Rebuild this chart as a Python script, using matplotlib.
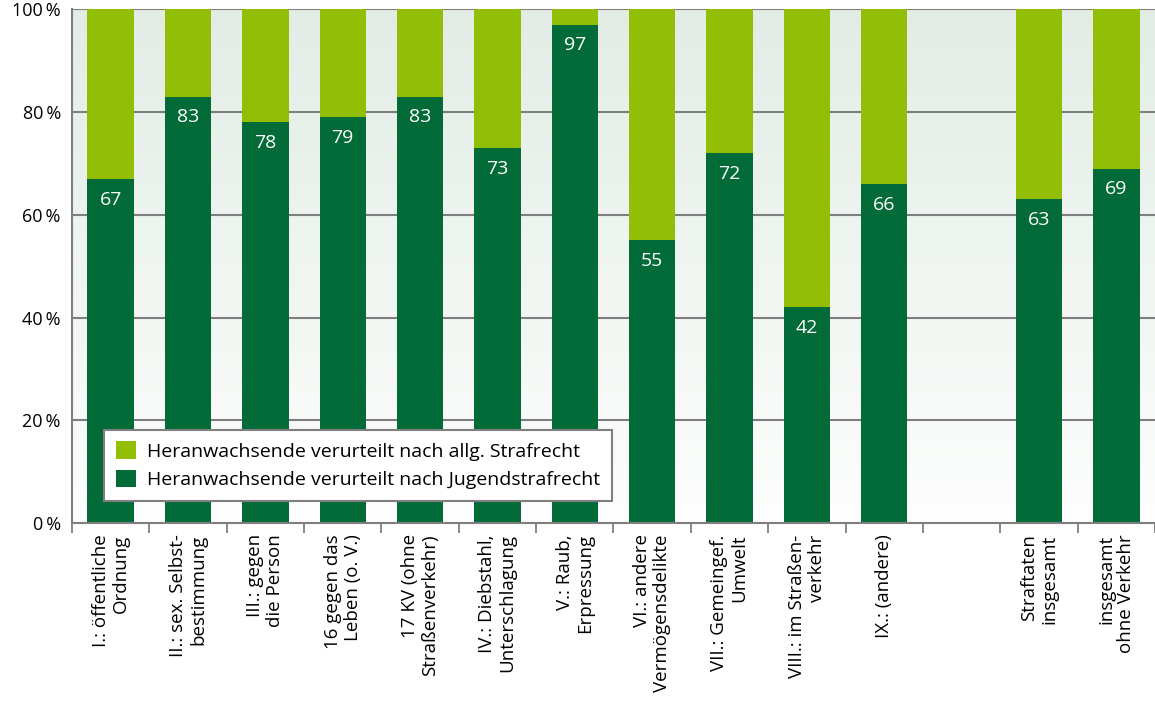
import numpy as np
import matplotlib
matplotlib.use("Agg")
import matplotlib.pyplot as plt
from matplotlib.patches import Patch
from matplotlib.colors import LinearSegmentedColormap

plt.rcParams['font.family'] = ['Open Sans', 'DejaVu Sans']

# categories (empty string = gap slot)
categories = [
    "I.: öffentliche\nOrdnung",
    "II.: sex. Selbst-\nbestimmung",
    "III.: gegen\ndie Person",
    "16 gegen das\nLeben (o. V.)",
    "17 KV (ohne\nStraßenverkehr)",
    "IV.: Diebstahl,\nUnterschlagung",
    "V.: Raub,\nErpressung",
    "VI.: andere\nVermögensdelikte",
    "VII.: Gemeingef.\nUmwelt",
    "VIII.: im Straßen-\nverkehr",
    "IX.: (andere)",
    "",
    "Straftaten\ninsgesamt",
    "insgesamt\nohne Verkehr",
]
# share sentenced under juvenile criminal law (%)
jugend = [67, 83, 78, 79, 83, 73, 97, 55, 72, 42, 66, None, 63, 69]

ytick_vals = [0, 20, 40, 60, 80, 100]
ytick_labels = ["0\u2009%", "20\u2009%", "40\u2009%", "60\u2009%", "80\u2009%", "100\u2009%"]

legend_labels = ["Heranwachsende verurteilt nach allg. Strafrecht",
                 "Heranwachsende verurteilt nach Jugendstrafrecht"]

dark = "#026b37"
light = "#93be06"
grid_col = "#7f7f7f"

fig = plt.figure(figsize=(11.55, 7.06), dpi=100)
ax = fig.add_axes([0.0623, 0.259, 0.9377, 0.728])

n = len(categories)
ax.set_xlim(-0.5, n - 0.5)
ax.set_ylim(0, 100)

# background gradient (light grey-green at top, white at bottom)
grad = np.linspace(0, 1, 256).reshape(-1, 1)
cmap = LinearSegmentedColormap.from_list("bg", ["#fdfefd", "#e2ece5"])
ax.imshow(grad, extent=(-0.5, n - 0.5, 0, 100), origin="lower", aspect="auto",
          cmap=cmap, zorder=0)

for y in ytick_vals[1:]:
    ax.axhline(y, color=grid_col, lw=1.5, zorder=1)

idx = [i for i, v in enumerate(jugend) if v is not None]
vals = np.array([jugend[i] for i in idx], dtype=float)
w = 0.6
ax.bar(idx, vals, width=w, color=dark, zorder=2)
ax.bar(idx, 100 - vals, bottom=vals, width=w, color=light, zorder=2)

for i, v in zip(idx, vals):
    ax.text(i, v - 2.3, f"{int(v)}", ha="center", va="top", color="white",
            fontsize=14, zorder=3)

ax.set_yticks(ytick_vals)
ax.set_yticklabels(ytick_labels, fontsize=13)
ax.tick_params(axis="y", length=0, pad=8)

ax.set_xticks(range(n))
ax.set_xticklabels(categories, rotation=90, fontsize=13.5, va="top", ha="center",
                   multialignment="right", linespacing=1.15)
ax.tick_params(axis="x", which="major", length=0, pad=8)
ax.set_xticks(np.arange(-0.5, n, 1), minor=True)
ax.tick_params(axis="x", which="minor", length=7, width=1.3, color=grid_col,
               direction="out")

for s in ["top", "right"]:
    ax.spines[s].set_visible(False)
for s in ["left", "bottom"]:
    ax.spines[s].set_color(grid_col)
    ax.spines[s].set_linewidth(1.5)

handles = [Patch(facecolor=light), Patch(facecolor=dark)]
leg = ax.legend(handles, legend_labels, loc="lower left",
                bbox_to_anchor=(0.021, 0.025), fontsize=14, frameon=True,
                fancybox=False, framealpha=1, edgecolor=grid_col,
                handlelength=1.0, handleheight=1.0, handletextpad=0.6,
                labelspacing=0.45, borderpad=0.6)
leg.get_frame().set_linewidth(1.5)
leg.set_zorder(5)

fig.savefig("out.png", dpi=100)
